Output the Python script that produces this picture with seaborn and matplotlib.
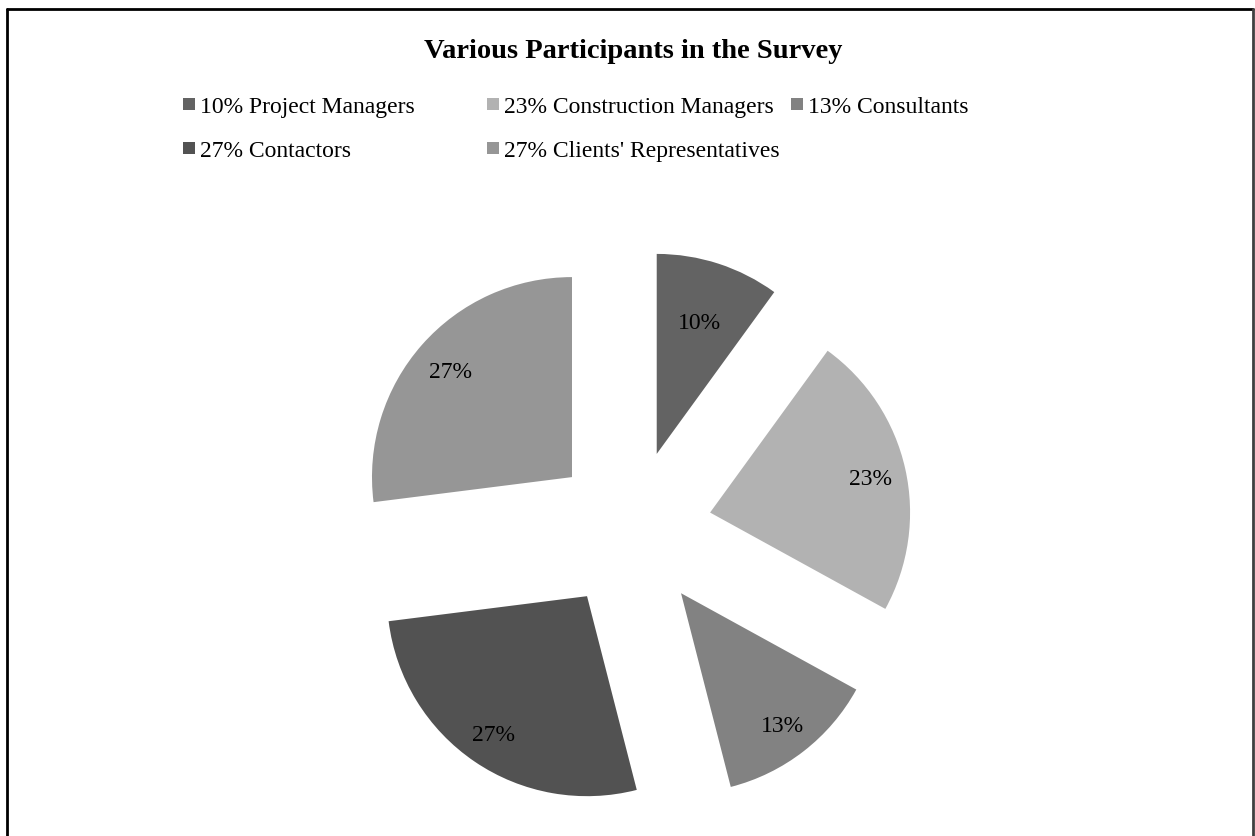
import matplotlib
matplotlib.use("Agg")
import matplotlib.pyplot as plt
from matplotlib.patches import Rectangle
from matplotlib.lines import Line2D
import numpy as np
import seaborn as sns

# ---- data ----
categories = ["Project Managers", "Construction Managers", "Consultants",
              "Contactors", "Clients' Representatives"]
values = [10, 23, 13, 27, 27]
colors = ["#636363", "#b2b2b2", "#828282", "#525252", "#969696"]
title = "Various Participants in the Survey"

sns.set_theme(style="white")
plt.rcParams["font.family"] = ["Liberation Serif", "DejaVu Serif"]

W, H = 1255, 836
fig = plt.figure(figsize=(W / 100, H / 100), dpi=100)
fig.patch.set_facecolor("white")

# pie axes: centre (632, 530) px, radius 200 px
cx, cy, r = 632, 530, 200
span = 1.5
ax = fig.add_axes([(cx - span * r) / W, (H - cy - span * r) / H,
                   2 * span * r / W, 2 * span * r / H])

explode = 0.4
wedges, texts, autotexts = ax.pie(
    values, colors=colors, startangle=90, counterclock=False,
    explode=[explode] * len(values), radius=1.0, autopct="%1.0f%%",
    pctdistance=0.83, textprops=dict(fontsize=17, color="black"),
    wedgeprops=dict(linewidth=0), frame=False)
ax.set_xlim(-span, span)
ax.set_ylim(-span, span)
ax.set_aspect("auto")
ax.axis("off")

# label placement (best-fit style: smallest slice label sits further in)
label_dist = [0.70, 0.82, 0.83, 0.83, 0.81]
for w, t, d in zip(wedges, autotexts, label_dist):
    ang = np.deg2rad((w.theta1 + w.theta2) / 2)
    t.set_position(((explode + d) * np.cos(ang), (explode + d) * np.sin(ang)))
    t.set_va("center_baseline")

# title
fig.text(633 / W, 1 - 49 / H, title, ha="center", va="center_baseline",
         fontsize=20.5, fontweight="bold", color="black")

# legend (row-major, equal column widths like Excel)
col_x = [183, 487, 791]
row_y = [104, 148]
sq = 12
for i, (cat, v, c) in enumerate(zip(categories, values, colors)):
    row, col = divmod(i, 3)
    x0 = col_x[col]
    y0 = row_y[row]
    fig.patches.append(Rectangle((x0 / W, 1 - (y0 + sq / 2) / H), sq / W, sq / H,
                                 transform=fig.transFigure, facecolor=c,
                                 edgecolor="none"))
    fig.text((x0 + sq + 5) / W, 1 - (y0 + 1) / H, f"{v}% {cat}",
             ha="left", va="center_baseline", fontsize=17, color="black")

# outer border (left, top, right)
lw = 2
fig.lines.append(Line2D([7 / W, 7 / W], [0, 1 - 9 / H], transform=fig.transFigure,
                        color="black", linewidth=lw))
fig.lines.append(Line2D([7 / W, 1253 / W], [1 - 9 / H, 1 - 9 / H],
                        transform=fig.transFigure, color="black", linewidth=lw))
fig.lines.append(Line2D([1253 / W, 1253 / W], [0, 1 - 9 / H],
                        transform=fig.transFigure, color="#404040", linewidth=lw))

fig.savefig("out.png", dpi=100, facecolor="white")
